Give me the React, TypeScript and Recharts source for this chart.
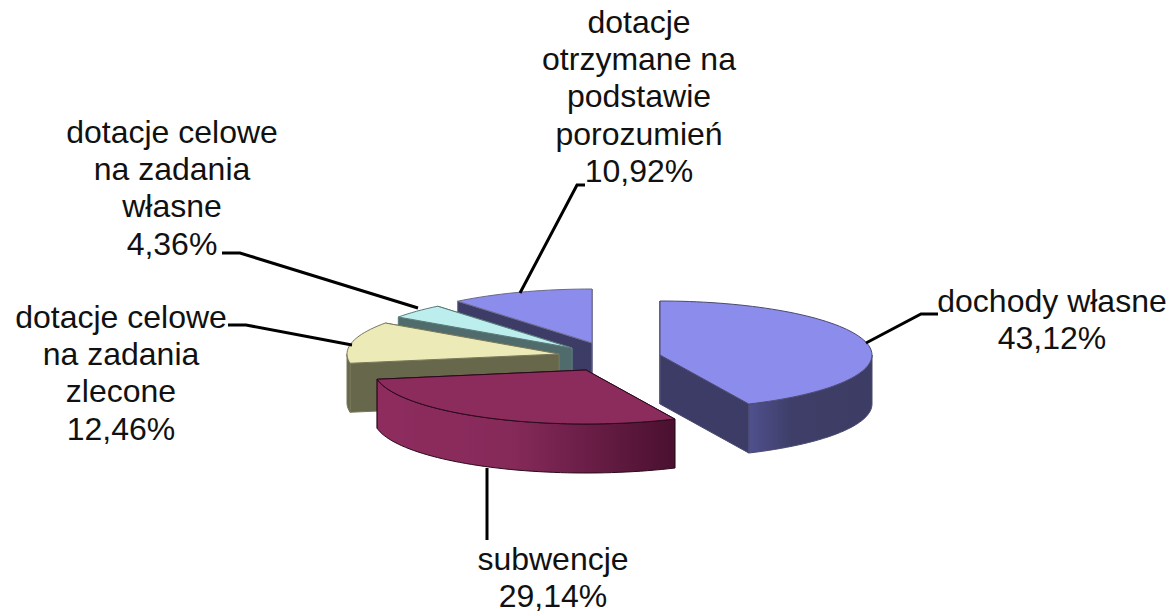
import { Pie, PieChart } from "recharts";

// order runs counter-clockwise from 12 o'clock, which is also back-to-front for drawing
const categories = [
  "dotacje otrzymane na podstawie porozumień",
  "dotacje celowe na zadania własne",
  "dotacje celowe na zadania zlecone",
  "subwencje",
  "dochody własne",
];
const shares = [10.92, 4.36, 12.46, 29.14, 43.12];
const shareLabels = ["10,92%", "4,36%", "12,46%", "29,14%", "43,12%"];

const labelLines = [
  ["dotacje", "otrzymane na", "podstawie", "porozumień"],
  ["dotacje celowe", "na zadania", "własne"],
  ["dotacje celowe", "na zadania", "zlecone"],
  ["subwencje"],
  ["dochody własne"],
];

const topColors = ["#8c8cec", "#bdeeee", "#ecebb8", "#8c2c5c", "#8c8cec"];
const wallColors = ["#3c3c66", "#4f6b6b", "#67674c", "#8a2c5c", "#3c3c66"];
const outlineColors = ["#6a6a8a", "#5a7a7a", "#77775a", "#2a0a1c", "#4a4a70"];
const arcFills = ["#3c3c66", "#4f6b6b", "#67674c", "url(#wallSub)", "url(#wallOwn)"];

// exploded pieces: shift of each slice's apex from the pie centre
const explode = [
  [2, -7],
  [-18, -2],
  [-31, 4],
  [-4, 20],
  [70, 5],
];
const labelAnchors = [
  [639, 33],
  [172, 143],
  [121, 328],
  [553, 570],
  [1052, 312],
];
const leaders = [
  "M520,293L577,185L585,185",
  "M222,253L240,253L418,308",
  "M228,325L246,325L352,345",
  "M487,468L487,540",
  "M866,343L921,314L938,314",
];

const chartData = categories.map((name, i) => ({ name, value: shares[i] }));

const RX = 212;
const RY = 54;
const DEPTH = 49;
const RADIAN = Math.PI / 180;
const LINE_HEIGHT = 37.2;

const SliceShape = (props: any) => {
  const i = categories.indexOf(props.name);
  const ax = props.cx + explode[i][0];
  const ay = props.cy + explode[i][1];
  const point = (a: number, drop = 0) =>
    [ax + RX * Math.cos(a * RADIAN), ay - RY * Math.sin(a * RADIAN) + drop] as const;
  const arc = (from: number, to: number, drop = 0) => {
    let d = "";
    const n = Math.max(2, Math.ceil(Math.abs(to - from) / 2));
    for (let k = 0; k <= n; k++) {
      const [x, y] = point(from + ((to - from) * k) / n, drop);
      d += `${k === 0 ? "M" : "L"}${x.toFixed(2)},${y.toFixed(2)}`;
    }
    return d;
  };
  const face = (a: number) => {
    const [x, y] = point(a);
    return `M${ax},${ay}L${x},${y}L${x},${y + DEPTH}L${ax},${ay + DEPTH}Z`;
  };

  const start = props.startAngle;
  const end = props.endAngle;
  const frontFrom = Math.max(start, 180);
  const frontTo = Math.min(end, 360);
  let front = null;
  if (frontTo > frontFrom) {
    const [bx, by] = point(frontTo, DEPTH);
    const lower = arc(frontTo, frontFrom, DEPTH).replace(/^M/, "L");
    front = arc(frontFrom, frontTo) + `L${bx},${by}` + lower + "Z";
  }
  const top = `M${ax},${ay}` + arc(start, end).replace(/^M/, "L") + "Z";

  return (
    <g>
      <path d={face(start)} fill={wallColors[i]} stroke={outlineColors[i]} strokeWidth={1} />
      <path d={face(end)} fill={wallColors[i]} stroke={outlineColors[i]} strokeWidth={1} />
      {front && <path d={front} fill={arcFills[i]} stroke={outlineColors[i]} strokeWidth={1} />}
      <path d={top} fill={topColors[i]} stroke={outlineColors[i]} strokeWidth={1} />
    </g>
  );
};

const renderLabel = (props: any) => {
  const i = props.index;
  const [x, y] = labelAnchors[i];
  const lines = [...labelLines[i], shareLabels[i]];
  return (
    <g key={`label-${i}`}>
      <path d={leaders[i]} fill="none" stroke="#000" strokeWidth={3} />
      <text x={x} y={y} textAnchor="middle" fill="#111" fontFamily="'Liberation Sans', Arial, sans-serif" fontSize={32}>
        {lines.map((line, k) => (
          <tspan key={k} x={x} y={y + k * LINE_HEIGHT}>
            {line}
          </tspan>
        ))}
      </text>
    </g>
  );
};

export default function App() {
  return (
    <div style={{ position: "absolute", left: 0, top: 0, width: 1173, height: 612, background: "#fff" }}>
      <PieChart width={1173} height={612} margin={{ top: 0, right: 0, bottom: 0, left: 0 }}>
        <defs>
          <linearGradient id="wallOwn" x1="0" y1="0" x2="1" y2="0">
            <stop offset="0" stopColor="#50508e" />
            <stop offset="0.35" stopColor="#3e3e68" />
            <stop offset="1" stopColor="#3c3c64" />
          </linearGradient>
          <linearGradient id="wallSub" x1="0" y1="0" x2="1" y2="0">
            <stop offset="0" stopColor="#8e2c5e" />
            <stop offset="0.45" stopColor="#862a5a" />
            <stop offset="1" stopColor="#4a1030" />
          </linearGradient>
        </defs>
        <Pie
          data={chartData}
          dataKey="value"
          nameKey="name"
          cx={590}
          cy={350}
          innerRadius={0}
          outerRadius={RX}
          startAngle={90}
          endAngle={450}
          stroke="none"
          isAnimationActive={false}
          shape={SliceShape}
          label={renderLabel}
          labelLine={false}
        />
      </PieChart>
    </div>
  );
}
